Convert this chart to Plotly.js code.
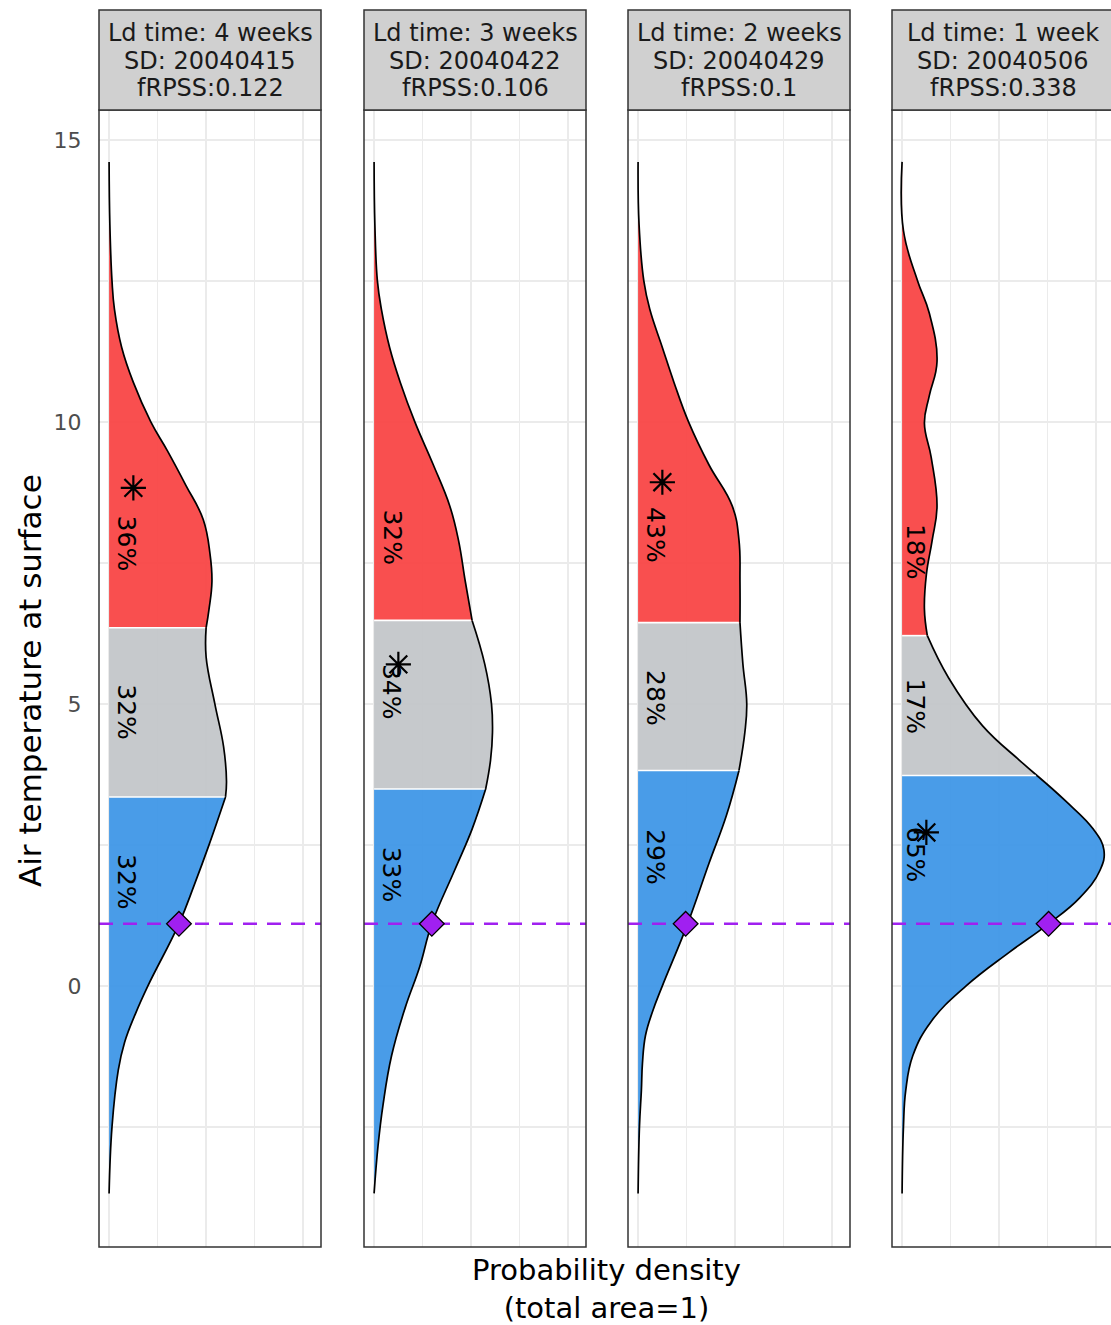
<!DOCTYPE html>
<html>
<head>
<meta charset="utf-8">
<script src="https://cdn.plot.ly/plotly-3.0.1.min.js"></script>
<style>html,body{margin:0;padding:0;background:#fff;overflow:hidden}</style>
</head>
<body>
<div id="chart" style="width:1111px;height:1325px"></div>
<script>
// ---------------- data ----------------
const leadTimes = ["4 weeks", "3 weeks", "2 weeks", "1 week"];
const startDates = ["20040415", "20040422", "20040429", "20040506"];
const fRPSS = ["0.122", "0.106", "0.1", "0.338"];

const tempP1 = [-3.68, -2.5, -1.49, -1.0, -0.5, 0, 1.1, 1.8, 2.5, 3.35, 3.63, 4.24, 5.0, 5.83, 6.35, 6.68, 7.17, 7.66, 8.27, 8.88, 9.49, 10.0, 10.7, 11.32, 12.0, 12.5, 13.5, 14.61];
const densP1 = [0, 0.003, 0.0095, 0.016, 0.027, 0.04, 0.072, 0.088, 0.103, 0.120, 0.121, 0.118, 0.109, 0.100, 0.100, 0.103, 0.106, 0.104, 0.097, 0.079, 0.060, 0.043, 0.025, 0.013, 0.0055, 0.003, 0.0008, 0];

const tempP2 = [-3.68, -2.83, -2.1, -1.24, -0.39, 0.34, 1.1, 2.05, 2.78, 3.49, 4.0, 4.49, 5.0, 5.71, 6.48, 7.17, 7.9, 8.51, 9.24, 10.0, 10.7, 11.32, 12.0, 12.5, 13.5, 14.61];
const densP2 = [0, 0.0041, 0.0093, 0.018, 0.032, 0.047, 0.0595, 0.083, 0.101, 0.115, 0.120, 0.122, 0.121, 0.114, 0.101, 0.094, 0.087, 0.078, 0.061, 0.042, 0.027, 0.016, 0.0075, 0.0034, 0.0008, 0];

const tempP3 = [-3.68, -2.5, -1.85, -1.37, -0.88, -0.45, 0, 1.1, 2.17, 3.02, 3.82, 4.49, 5.0, 5.71, 6.44, 7.17, 7.9, 8.51, 9.24, 10.0, 10.7, 11.32, 12.0, 12.5, 13.5, 14.61];
const densP3 = [0, 0.0014, 0.0034, 0.0045, 0.0076, 0.015, 0.025, 0.051, 0.073, 0.091, 0.104, 0.11, 0.112, 0.108, 0.105, 0.105, 0.104, 0.097, 0.073, 0.052, 0.037, 0.025, 0.012, 0.0059, 0.001, 0];

const tempP4 = [-3.68, -2.5, -1.85, -1.24, -0.63, 0, 0.59, 1.1, 1.56, 2.05, 2.41, 2.78, 3.27, 3.73, 4.0, 4.61, 5.46, 6.21, 6.68, 7.29, 7.9, 8.51, 9.37, 9.98, 10.46, 11.07, 11.93, 12.5, 13.39, 14.61];
const densP4 = [0, 0.0014, 0.0038, 0.011, 0.03, 0.066, 0.11, 0.151, 0.183, 0.204, 0.208, 0.197, 0.169, 0.139, 0.121, 0.083, 0.048, 0.026, 0.023, 0.025, 0.031, 0.036, 0.030, 0.023, 0.028, 0.036, 0.028, 0.016, 0.0014, 0];

const lowerTercile = [3.35, 3.49, 3.82, 3.73];
const upperTercile = [6.35, 6.48, 6.44, 6.21];

const pctBelow  = [32, 33, 29, 65];
const pctNormal = [32, 34, 28, 17];
const pctAbove  = [36, 32, 43, 18];
const pctBelowY  = [1.85, 1.98, 2.29, 2.33];
const pctNormalY = [4.86, 5.22, 5.11, 4.96];
const pctAboveY  = [7.85, 7.96, 8.0, 7.7];
const pctLabelX  = [0.018, 0.018, 0.018, 0.014];

const starX = [0.025, 0.025, 0.025, 0.025];
const starY = [8.83, 5.7, 8.93, 2.72];

const obsTemp = [1.1, 1.1, 1.1, 1.1];
const obsDens = [0.072, 0.0595, 0.049, 0.151];

const yTickVals = [0, 5, 10, 15];

// ---------------- layout geometry ----------------
const W = 1111, H = 1325;
const panelLeftPx = [99, 364, 628, 892];
const panelWidthPx = 222;
const plotTopPx = 110, plotBottomPx = 1247;
const stripTopPx = 10;

const temps = [tempP1, tempP2, tempP3, tempP4];
const dens = [densP1, densP2, densP3, densP4];

const M = Math.max(...dens.map(d => Math.max(...d)));
const xMin = -0.05 * M, xMax = 1.05 * M;

const colBelow = "rgba(58,148,230,0.92)";
const colNormal = "rgba(193,196,200,0.92)";
const colAbove = "rgba(248,64,64,0.92)";
const font = "DejaVu Sans, Liberation Sans, sans-serif";

const traces = [];
const layout = {
  width: W, height: H,
  margin: {l: 0, r: 0, t: 0, b: 0},
  paper_bgcolor: "#ffffff", plot_bgcolor: "#ffffff",
  showlegend: false,
  font: {family: font},
  shapes: [], annotations: [],
  yaxis: {
    domain: [(H - plotBottomPx) / H, (H - plotTopPx) / H],
    range: [-4.63, 15.53],
    tickvals: yTickVals,
    ticks: "outside", ticklen: 12, tickcolor: "rgba(0,0,0,0)",
    tickfont: {family: font, size: 22, color: "#4d4d4d"},
    showgrid: true, gridcolor: "#ebebeb", gridwidth: 1.4,
    minor: {dtick: 2.5, tick0: 0, showgrid: true, gridcolor: "#ebebeb", gridwidth: 1.4, ticks: ""},
    zeroline: false, showline: false, anchor: "x", fixedrange: true
  }
};

for (let i = 0; i < 4; i++) {
  const ax = i === 0 ? "x" : "x" + (i + 1);
  const axKey = i === 0 ? "xaxis" : "xaxis" + (i + 1);
  const left = panelLeftPx[i];
  const right = Math.min(W, left + panelWidthPx);
  const frac = (right - left) / panelWidthPx;
  const r1 = xMin + frac * (xMax - xMin);
  layout[axKey] = {
    domain: [left / W, right / W],
    range: [xMin, r1],
    anchor: "y",
    tick0: 0, dtick: 0.05,
    showgrid: true, gridcolor: "#ebebeb", gridwidth: 1.4,
    showticklabels: false, ticks: "",
    zeroline: false, showline: false, fixedrange: true
  };

  const t = temps[i], d = dens[i];
  const lo = lowerTercile[i], hi = upperTercile[i];
  const cats = [
    {f: v => v <= lo, c: colBelow},
    {f: v => v >= lo && v <= hi, c: colNormal},
    {f: v => v >= hi, c: colAbove}
  ];
  cats.forEach(cat => {
    const xs = [], ys = [];
    t.forEach((v, k) => { if (cat.f(v)) { xs.push(d[k]); ys.push(v); } });
    traces.push({
      type: "scatter", mode: "lines", xaxis: ax, yaxis: "y",
      x: xs, y: ys, fill: "tozerox", fillcolor: cat.c,
      line: {color: "#000000", width: 1.7, shape: "spline", smoothing: 1.2},
      hoverinfo: "skip"
    });
  });
  // white separators at the tercile boundaries
  [lo, hi].forEach(b => {
    const k = t.indexOf(b);
    traces.push({
      type: "scatter", mode: "lines", xaxis: ax, yaxis: "y",
      x: [0, d[k] - 0.0012], y: [b, b],
      line: {color: "#ffffff", width: 1.6}, hoverinfo: "skip"
    });
  });
  // observation dashed line
  traces.push({
    type: "scatter", mode: "lines", xaxis: ax, yaxis: "y",
    x: [xMin, r1], y: [obsTemp[i], obsTemp[i]],
    line: {color: "#a020f0", width: 2.5, dash: "14px,10px"}, hoverinfo: "skip"
  });
  // asterisk
  traces.push({
    type: "scatter", mode: "markers", xaxis: ax, yaxis: "y",
    x: [starX[i]], y: [starY[i]],
    marker: {symbol: "asterisk-open", size: 21, color: "#000000", line: {color: "#000000", width: 2.2}},
    hoverinfo: "skip"
  });
  // observation diamond
  traces.push({
    type: "scatter", mode: "markers", xaxis: ax, yaxis: "y",
    x: [obsDens[i]], y: [obsTemp[i]],
    marker: {symbol: "diamond", size: 19, color: "#a020f0", line: {color: "#000000", width: 1.3}},
    hoverinfo: "skip"
  });

  // percentage labels
  [[pctBelow, pctBelowY], [pctNormal, pctNormalY], [pctAbove, pctAboveY]].forEach(([p, py]) => {
    layout.annotations.push({
      xref: ax, yref: "y", x: pctLabelX[i], y: py[i],
      text: p[i] + "%", showarrow: false, textangle: 90,
      xanchor: "center", yanchor: "middle",
      font: {family: font, size: 25, color: "#000000"}
    });
  });

  const xr = ax + " domain";
  const x1 = 1 / frac;
  // panel border
  layout.shapes.push({
    type: "rect", xref: xr, yref: "y domain", x0: 0, x1: x1, y0: 0, y1: 1,
    line: {color: "#333333", width: 1.5}, fillcolor: "rgba(0,0,0,0)", layer: "above"
  });
  // strip
  layout.shapes.push({
    type: "rect", xref: xr, yref: "paper", x0: 0, x1: x1,
    y0: (H - plotTopPx) / H, y1: (H - stripTopPx) / H,
    line: {color: "#333333", width: 1.5}, fillcolor: "#d0d0d0", layer: "above"
  });
  const stripLines = ["Ld time: " + leadTimes[i], "SD: " + startDates[i], "fRPSS:" + fRPSS[i]];
  const stripLineY = [33, 61, 88];
  stripLines.forEach((s, k) => {
    layout.annotations.push({
      xref: xr, yref: "paper", x: 0.5 * x1, y: (H - stripLineY[k]) / H,
      text: s, showarrow: false, xanchor: "center", yanchor: "middle",
      font: {family: font, size: 24, color: "#1a1a1a"}
    });
  });
}

// axis titles
layout.annotations.push({
  xref: "paper", yref: "paper", x: 30 / W, y: (H - 681) / H,
  text: "Air temperature at surface", textangle: -90, showarrow: false,
  xanchor: "center", yanchor: "middle",
  font: {family: font, size: 31, color: "#000000"}
});
layout.annotations.push({
  xref: "paper", yref: "paper", x: 606 / W, y: (H - 1289) / H,
  text: "Probability density<br>(total area=1)", showarrow: false,
  xanchor: "center", yanchor: "middle",
  font: {family: font, size: 29, color: "#000000"}
});

Plotly.newPlot("chart", traces, layout, {staticPlot: true, displayModeBar: false});
</script>
</body>
</html>
